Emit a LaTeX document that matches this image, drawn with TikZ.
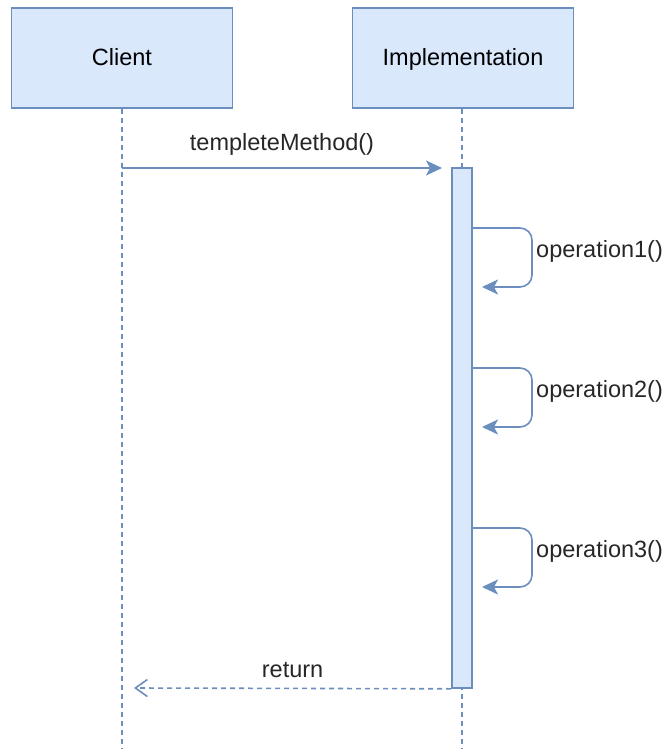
\documentclass[tikz,border=0pt]{standalone}
\usepackage{fontspec}
\setmainfont{Liberation Sans}
\usepackage{tikz}
\usetikzlibrary{arrows.meta}

\definecolor{umlfill}{HTML}{DAE8FC}
\definecolor{umlline}{HTML}{6C8EBF}

\tikzset{
  party/.style={draw=umlline,fill=umlfill,line width=1.6pt,minimum width=221pt,minimum height=100pt,inner sep=0pt,text height=17pt,text depth=1pt},
  lifeline/.style={draw=umlline,line width=1.6pt,dash pattern=on 5pt off 4pt},
  call/.style={draw=umlline,line width=1.6pt,-{Stealth[length=16pt,width=15pt,inset=4pt]}},
  selfcall/.style={call,rounded corners=12pt},
  ret/.style={draw=umlline,line width=1.6pt,dash pattern=on 5pt off 4pt,-{Straight Barb[length=12pt,width=17pt,line width=1.6pt]}},
  msg/.style={text=black!85,inner sep=0pt}
}

\begin{document}
\begin{tikzpicture}[x=1pt,y=-1pt,font=\fontsize{23.5}{27}\selectfont]
\useasboundingbox (0,0) rectangle (669,749);
\node[party] (client) at (122,58) {Client};
\node[party] (impl) at (463,58) {Implementation};
\coordinate (clientend) at (122,749);
\coordinate (implend) at (462,749);
\draw[lifeline] (client.south) -- (clientend);
\draw[lifeline] (impl.south -| implend) -- (implend);
\node[draw=umlline,fill=umlfill,line width=1.6pt,minimum width=20pt,minimum height=520pt,inner sep=0pt] (act) at (462,428) {};
\coordinate (callstart) at (122,168);
\coordinate (callend) at (442,168);
\draw[call] (callstart) -- (callend) node[msg,midway,above=12pt] (calllbl) {templeteMethod()};
\foreach \i/\y in {1/228,2/368,3/528}{
  \coordinate (op\i) at (472,\y);
  \draw[selfcall] (op\i) -- ++(60,0) -- ++(0,59) -- ++(-50,0);
  \node[msg,anchor=west] (oplbl\i) at (536,\y+23) {operation\i()};
}
\coordinate (retend) at (134,688);
\draw[ret] (act.south west) -- (retend) node[msg,midway,above=10pt] (retlbl) {return};
\end{tikzpicture}
\end{document}
